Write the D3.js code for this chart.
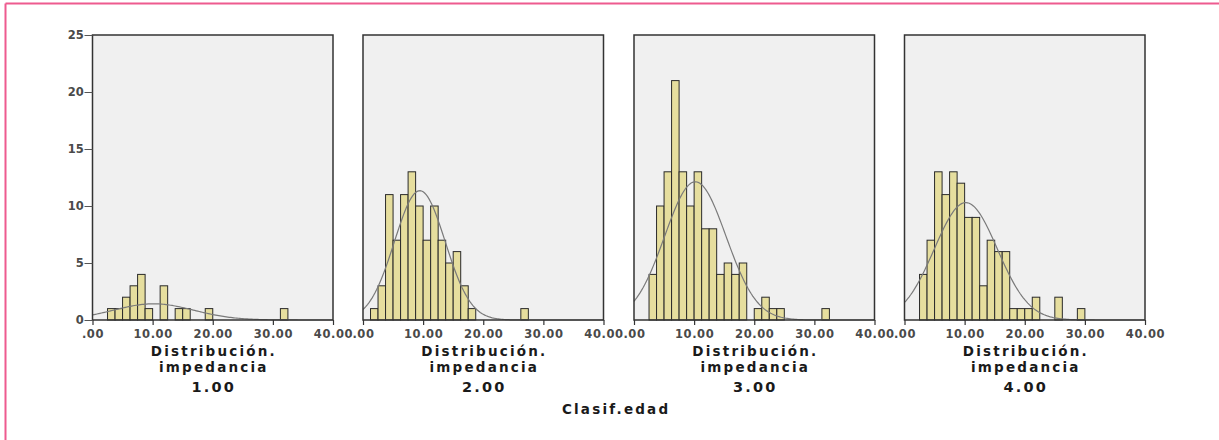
<!DOCTYPE html>
<html>
<head>
<meta http-equiv="Content-Type" content="text/html; charset=utf-8" />
<script src="https://cdn.jsdelivr.net/npm/d3@7"></script>
<title>Histogramas</title>
<style>
  body { margin: 0; background: #fff; }
  text { font-family: "DejaVu Sans", Verdana, sans-serif; }
</style>
</head>
<body>
<svg width="1219" height="440" id="mainsvg"></svg>
<script>
  // bins are 1.25 wide starting at 0; bin index -> count
  const binWidth = 1.25;
  const groups = ['1.00', '2.00', '3.00', '4.00'];
  const bins1 = [[2,1],[3,1],[4,2],[5,3],[6,4],[7,1],[9,3],[11,1],[12,1],[15,1],[25,1]];
  const bins2 = [[1,1],[2,3],[3,11],[4,7],[5,11],[6,13],[7,10],[8,7],[9,10],[10,7],[11,5],[12,6],[13,3],[14,1],[21,1]];
  const bins3 = [[2,4],[3,10],[4,13],[5,21],[6,13],[7,10],[8,13],[9,8],[10,8],[11,4],[12,5],[13,4],[14,5],[16,1],[17,2],[18,1],[19,1],[25,1]];
  const bins4 = [[2,4],[3,7],[4,13],[5,11],[6,13],[7,12],[8,9],[9,9],[10,3],[11,7],[12,6],[13,6],[14,1],[15,1],[16,1],[17,2],[20,2],[23,1]];
  const allBins = [bins1, bins2, bins3, bins4];
  // fitted normal curve parameters
  const curveMean = [10.15, 9.45, 10.2, 10.2];
  const curveSd = [6.67, 4.22, 5.1, 5.23];
  const xTicks = [0, 10, 20, 30, 40];
  const yTicks = [0, 5, 10, 15, 20, 25];

  const svg = d3.select('#mainsvg');

  // pink frame
  svg.append('line').attr('x1', 5.5).attr('x2', 5.5).attr('y1', 3.5).attr('y2', 440)
    .attr('stroke', '#ee5b8f').attr('stroke-width', 2);
  svg.append('line').attr('x1', 5.5).attr('x2', 1219).attr('y1', 3.5).attr('y2', 3.5)
    .attr('stroke', '#ee5b8f').attr('stroke-width', 2);

  const panelLeft = [92.5, 363, 634, 904.5];
  const pw = 240.5, plotTop = 35, plotBottom = 320;

  const y = d3.scaleLinear().domain([0, 25]).range([plotBottom, plotTop]);

  function label(sel, x, yy, txt, fs) {
    // letter-spacing adds a trailing gap, nudge right by half of it
    sel.append('text').attr('x', x + 1.1).attr('y', yy).attr('text-anchor', 'middle')
      .attr('font-size', fs || 13.5).attr('font-weight', 'bold').attr('fill', '#1a1a1a')
      .attr('letter-spacing', '2.2px')
      .text(txt);
  }

  groups.forEach((g, i) => {
    const x = d3.scaleLinear().domain([0, 40]).range([panelLeft[i], panelLeft[i] + pw]);
    const p = svg.append('g');

    p.append('rect').attr('x', x(0)).attr('y', plotTop).attr('width', pw).attr('height', plotBottom - plotTop)
      .attr('fill', '#f0f0f0');

    p.selectAll('.bar').data(allBins[i]).join('rect')
      .attr('class', 'bar')
      .attr('x', d => x(d[0] * binWidth))
      .attr('width', d => x((d[0] + 1) * binWidth) - x(d[0] * binWidth))
      .attr('y', d => y(d[1]))
      .attr('height', d => plotBottom - y(d[1]))
      .attr('fill', '#e6de9e').attr('stroke', '#2a2a2a').attr('stroke-width', 1);

    const n = d3.sum(allBins[i], d => d[1]);
    const m = curveMean[i], s = curveSd[i];
    const pts = d3.range(0, 40.01, 0.25).map(v =>
      [v, n * binWidth * Math.exp(-((v - m) ** 2) / (2 * s * s)) / (s * Math.sqrt(2 * Math.PI))]);
    p.append('path').datum(pts)
      .attr('d', d3.line().x(d => x(d[0])).y(d => y(d[1])))
      .attr('fill', 'none').attr('stroke', '#7a7a7a').attr('stroke-width', 1.2);

    p.append('rect').attr('x', x(0)).attr('y', plotTop).attr('width', pw).attr('height', plotBottom - plotTop)
      .attr('fill', 'none').attr('stroke', '#333').attr('stroke-width', 1.5);

    const xa = p.append('g').attr('transform', `translate(0,${plotBottom})`)
      .call(d3.axisBottom(x).tickValues(xTicks).tickSize(5)
        .tickFormat(v => v === 0 ? '.00' : d3.format('.2f')(v)));
    xa.select('.domain').remove();
    xa.selectAll('line').attr('stroke', '#333').attr('stroke-width', 1.2);
    xa.selectAll('text').attr('font-size', 11.5).attr('font-weight', 'bold')
      .attr('fill', '#4a4a4a').attr('dy', '0.9em').attr('letter-spacing', '0.6px')
      .style('font-family', '"DejaVu Sans", Verdana, sans-serif');

    if (i === 0) {
      const ya = p.append('g').attr('transform', `translate(${x(0)},0)`)
        .call(d3.axisLeft(y).tickValues(yTicks).tickSize(8));
      ya.select('.domain').remove();
      ya.selectAll('line').attr('stroke', '#555').attr('stroke-width', 1);
      ya.selectAll('text').attr('font-size', 11.5).attr('font-weight', 'bold')
        .attr('fill', '#4a4a4a').attr('dx', '0.2em')
        .style('font-family', '"DejaVu Sans", Verdana, sans-serif');
    }

    const cx = x(20);
    label(p, cx, 356, 'Distribución.');
    label(p, cx, 372, 'impedancia');
    label(p, cx, 392, g, 14.5);
  });

  label(svg, 615, 414, 'Clasif.edad');
</script>
</body>
</html>
